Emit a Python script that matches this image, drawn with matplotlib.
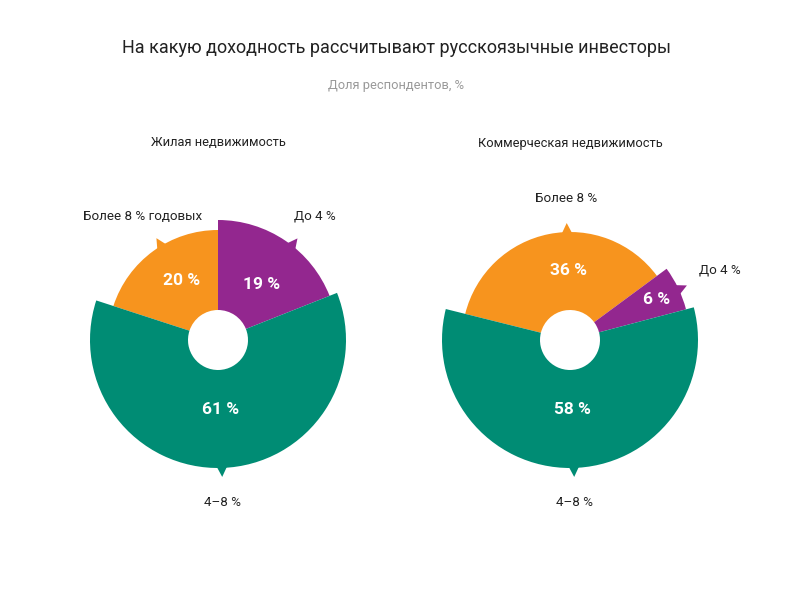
import numpy as np
import matplotlib
matplotlib.use("Agg")
import matplotlib.pyplot as plt
from matplotlib.patches import Wedge, Polygon

plt.rcParams["font.family"] = ["Roboto", "DejaVu Sans"]

# данные
categories = ["Более 8 %", "До 4 %", "4–8 %"]
zhilaya = [20, 19, 61]
kommerch = [36, 6, 58]
labels_zh = ["Более 8 % годовых", "До 4 %", "4–8 %"]
labels_km = ["Более 8 %", "До 4 %", "4–8 %"]
colors = ["#F7941E", "#93278F", "#008C74"]

# радиусы секторов (пикс.), порядок как в categories
radius_zh = [110, 120, 128]
radius_km = [108, 120, 128]


def donut(ax, cx, cy, values, radii, start, labels, label_pos, title):
    hole = 30
    ang = start
    for v, r, c, lab, (lx, ly) in zip(values, radii, colors, labels, label_pos):
        span = v / 100 * 360
        # по часовой стрелке; y вниз, поэтому углы зеркалим
        a1, a2 = ang - span, ang
        ax.add_patch(Wedge((cx, cy), r, -a2, -a1, width=r - hole, color=c, lw=0))
        # направление на подпись
        d = np.degrees(np.arctan2(-(ly - cy), lx - cx))
        t = np.radians(d)
        ux, uy = np.cos(t), -np.sin(t)
        px, py = -uy, ux
        tip = (cx + ux * (r + 9), cy + uy * (r + 9))
        b1 = (cx + ux * (r - 2) + px * 5.5, cy + uy * (r - 2) + py * 5.5)
        b2 = (cx + ux * (r - 2) - px * 5.5, cy + uy * (r - 2) - py * 5.5)
        ax.add_patch(Polygon([tip, b1, b2], closed=True, color=c, lw=0))
        rt = 70 if v > 10 else 96
        ax.text(cx + ux * rt, cy + uy * rt, f"{v} %", color="white",
                fontsize=12.5, fontweight="bold", ha="center", va="center")
        ax.text(lx, ly, lab, fontsize=9.6, color="#222222", ha="center", va="center")
        ang = ang - span
    ax.text(cx, 143, title, fontsize=9.3, color="#222222", ha="center", va="center")


fig = plt.figure(figsize=(8, 6.01), dpi=100)
ax = fig.add_axes([0, 0, 1, 1])
ax.set_xlim(0, 800)
ax.set_ylim(601, 0)
ax.set_aspect("equal")
ax.axis("off")

donut(ax, 218, 340, zhilaya, radius_zh, 162, labels_zh,
      [(143, 216), (315, 216), (223, 503)], "Жилая недвижимость")
donut(ax, 570, 340, kommerch, radius_km, 166, labels_km,
      [(566, 198), (720, 270), (575, 503)], "Коммерческая недвижимость")

ax.text(397, 48, "На какую доходность рассчитывают русскоязычные инвесторы",
        fontsize=13, color="#222222", ha="center", va="center")
ax.text(396, 86, "Доля респондентов, %", fontsize=9.3, color="#999999",
        ha="center", va="center")

plt.savefig("out.png", dpi=100)
